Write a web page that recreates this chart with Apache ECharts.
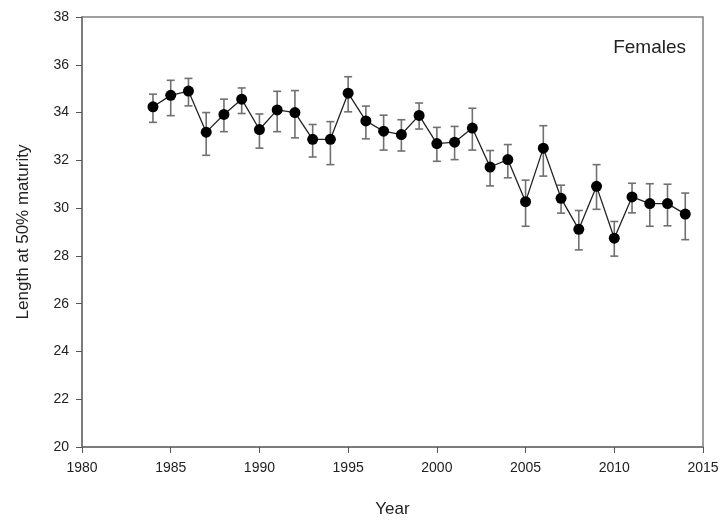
<!DOCTYPE html>
<html><head><meta charset="utf-8">
<script src="https://cdn.jsdelivr.net/npm/echarts@6/dist/echarts.min.js"></script>
<style>html,body{margin:0;padding:0;background:#fff}#c{width:722px;height:523px}</style>
</head><body><div id="c"></div>
<script>
const years = [1984,1985,1986,1987,1988,1989,1990,1991,1992,1993,1994,1995,1996,1997,1998,1999,2000,2001,2002,2003,2004,2005,2006,2007,2008,2009,2010,2011,2012,2013,2014];
const values = [34.24,34.72,34.90,33.18,33.92,34.56,33.29,34.11,34.00,32.88,32.88,34.81,33.65,33.22,33.08,33.88,32.70,32.76,33.35,31.72,32.03,30.27,32.51,30.41,29.11,30.91,28.74,30.47,30.19,30.19,29.75];
const upper = [34.77,35.35,35.43,34.00,34.56,35.03,33.94,34.89,34.92,33.50,33.62,35.50,34.27,33.89,33.70,34.40,33.38,33.42,34.18,32.41,32.66,31.17,33.45,30.96,29.90,31.82,29.44,31.04,31.02,31.00,30.63];
const lower = [33.59,33.87,34.28,32.21,33.20,33.96,32.51,33.20,32.94,32.14,31.82,34.03,32.90,32.43,32.39,33.31,31.96,32.03,32.43,30.93,31.27,29.24,31.34,29.79,28.25,29.95,27.99,29.80,29.24,29.26,28.68];
const xTicks = [1980,1985,1990,1995,2000,2005,2010,2015];
const yTicks = [20,22,24,26,28,30,32,34,36,38];

const font = 'Liberation Sans, Arial, sans-serif';
const chart = echarts.init(document.getElementById('c'), null, {renderer:'canvas'});
const lineData = years.map((y,i)=>[y, values[i]]);
const errData = years.map((y,i)=>[y, lower[i], upper[i]]);

chart.setOption({
  animation:false,
  backgroundColor:'#fff',
  grid:{left:82, right:19, top:17, bottom:72, show:true, borderColor:'#808080', borderWidth:1.5, backgroundColor:'transparent'},
  xAxis:{type:'value', min:xTicks[0], max:xTicks[xTicks.length-1], interval:5,
    name:'Year', nameLocation:'middle', nameGap:54,
    nameTextStyle:{fontFamily:font, fontSize:17, color:'#222'},
    axisLine:{show:true, lineStyle:{color:'#707070', width:1.5}},
    axisTick:{show:true, length:6, inside:false, lineStyle:{color:'#555'}},
    axisLabel:{fontFamily:font, fontSize:14, color:'#222', margin:14, formatter:function(v){return String(v);}},
    splitLine:{show:false}},
  yAxis:{type:'value', min:yTicks[0], max:yTicks[yTicks.length-1], interval:2,
    name:'Length at 50% maturity', nameLocation:'middle', nameGap:50,
    nameTextStyle:{fontFamily:font, fontSize:17, color:'#222'},
    axisLine:{show:true, lineStyle:{color:'#707070', width:1.5}},
    axisTick:{show:true, length:6, lineStyle:{color:'#555'}},
    axisLabel:{fontFamily:font, fontSize:14, color:'#222', margin:13},
    splitLine:{show:false}},
  graphic:[{type:'text', right:36, top:38, style:{text:'Females', fontFamily:font, fontSize:19, fill:'#222'}}],
  series:[
    {type:'custom', data:errData, z:2,
      renderItem:function(params, api){
        const x = api.value(0);
        const lo = api.coord([x, api.value(1)]);
        const hi = api.coord([x, api.value(2)]);
        const hw = 4;
        const st = {stroke:'#707070', lineWidth:1.6};
        return {type:'group', children:[
          {type:'line', shape:{x1:lo[0], y1:lo[1], x2:hi[0], y2:hi[1]}, style:st},
          {type:'line', shape:{x1:hi[0]-hw, y1:hi[1], x2:hi[0]+hw, y2:hi[1]}, style:st},
          {type:'line', shape:{x1:lo[0]-hw, y1:lo[1], x2:lo[0]+hw, y2:lo[1]}, style:st}
        ]};
      }},
    {type:'line', data:lineData, z:3, symbol:'circle', symbolSize:11,
      itemStyle:{color:'#000'}, lineStyle:{color:'#222', width:1.3}}
  ]
});
</script></body></html>
